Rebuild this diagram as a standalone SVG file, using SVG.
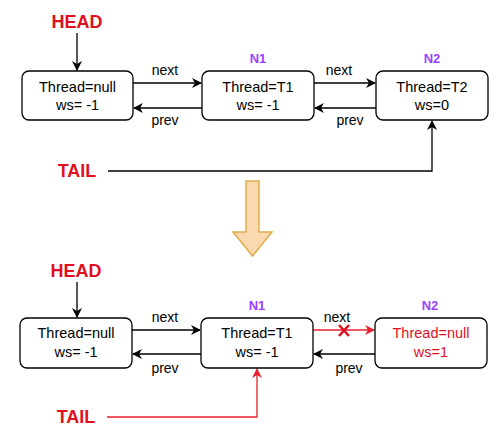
<svg xmlns="http://www.w3.org/2000/svg" width="502" height="445" viewBox="0 0 502 445">
<defs>
<style>
.box{fill:#fff;stroke:#000;stroke-width:1.3}
.t{font-family:"Liberation Sans",Arial,sans-serif;font-size:14.5px;text-anchor:middle;fill:#000}
.lbl{font-family:"Liberation Sans",Arial,sans-serif;font-size:14px;text-anchor:middle;fill:#000}
.big{font-family:"Liberation Sans",Arial,sans-serif;font-size:18px;font-weight:bold;text-anchor:middle;fill:#e0101f}
.n{font-family:"Liberation Sans",Arial,sans-serif;font-size:13px;font-weight:bold;text-anchor:middle;fill:#9a3fff}
.red{fill:#e0101f}
.ln{fill:none;stroke:#000;stroke-width:1.3}
.lr{fill:none;stroke:#e8202e;stroke-width:1.3}
</style>
<marker id="ab" viewBox="0 0 10 10" refX="9" refY="5" markerWidth="10" markerHeight="10" markerUnits="userSpaceOnUse" orient="auto"><path d="M0,0 L10,5 L0,10 L3,5 Z" fill="#000"/></marker>
<marker id="ar" viewBox="0 0 10 10" refX="9" refY="5" markerWidth="10" markerHeight="10" markerUnits="userSpaceOnUse" orient="auto"><path d="M0,0 L10,5 L0,10 L3,5 Z" fill="#e8202e"/></marker>
</defs>
<g id="connectors">
<path class="ln" d="M77,33 V70" marker-end="url(#ab)"/>
<path class="ln" d="M133,83 H201" marker-end="url(#ab)"/>
<path class="ln" d="M202,108 H134" marker-end="url(#ab)"/>
<path class="ln" d="M314,83 H375" marker-end="url(#ab)"/>
<path class="ln" d="M376,108 H315" marker-end="url(#ab)"/>
<path class="ln" d="M108,171 H432 V121" marker-end="url(#ab)"/>
<text class="lbl" x="165" y="75">next</text>
<text class="lbl" x="165" y="125">prev</text>
<text class="lbl" x="339" y="75">next</text>
<text class="lbl" x="350" y="125">prev</text>
<path class="ln" d="M77,282 V317" marker-end="url(#ab)"/>
<path class="ln" d="M132,330 H200" marker-end="url(#ab)"/>
<path class="ln" d="M201,354 H133" marker-end="url(#ab)"/>
<path class="lr" d="M313,330 H374" marker-end="url(#ar)"/>
<path class="ln" d="M375,354 H314" marker-end="url(#ab)"/>
<path class="lr" d="M107,417 H257 V369" marker-end="url(#ar)"/>
<text class="lbl" x="165" y="322">next</text>
<text class="lbl" x="165" y="373">prev</text>
<text class="lbl" x="337" y="322">next</text>
<text class="lbl" x="349" y="373">prev</text>
<path d="M339,325 L349,336 M349,325 L339,336" stroke="#e0101f" stroke-width="2.6" fill="none"/>
</g>
<g id="head1"><text class="big" x="77" y="28">HEAD</text></g>
<g id="tail1"><text class="big" x="77" y="177">TAIL</text></g>
<g id="node0a"><rect class="box" x="22" y="71" width="111" height="49" rx="7"/><text class="t" x="77.5" y="92">Thread=null</text><text class="t" x="77.5" y="110">ws= -1</text></g>
<g id="node1a"><text class="n" x="258" y="63">N1</text><rect class="box" x="202" y="71" width="112" height="49" rx="7"/><text class="t" x="258" y="92">Thread=T1</text><text class="t" x="258" y="110">ws= -1</text></g>
<g id="node2a"><text class="n" x="432" y="63">N2</text><rect class="box" x="376" y="71" width="112" height="49" rx="7"/><text class="t" x="432" y="92">Thread=T2</text><text class="t" x="432" y="110">ws=0</text></g>
<g id="bigarrow"><path d="M246,181 H259 V232 H272 L252.5,256 L233,232 H246 Z" fill="#fad9b0" stroke="#e0ad4a" stroke-width="1.5"/></g>
<g id="head2"><text class="big" x="76" y="277">HEAD</text></g>
<g id="tail2"><text class="big" x="76" y="423">TAIL</text></g>
<g id="node0b"><rect class="box" x="20" y="318" width="112" height="50" rx="7"/><text class="t" x="76" y="338">Thread=null</text><text class="t" x="76" y="357">ws= -1</text></g>
<g id="node1b"><text class="n" x="257" y="310">N1</text><rect class="box" x="201" y="318" width="112" height="50" rx="7"/><text class="t" x="257" y="338">Thread=T1</text><text class="t" x="257" y="357">ws= -1</text></g>
<g id="node2b"><text class="n" x="430" y="310">N2</text><rect class="box" x="375" y="318" width="112" height="50" rx="7"/><text class="t" x="431" y="338" style="fill:#e0101f">Thread=null</text><text class="t" x="431" y="357" style="fill:#e0101f">ws=1</text></g>
</svg>
